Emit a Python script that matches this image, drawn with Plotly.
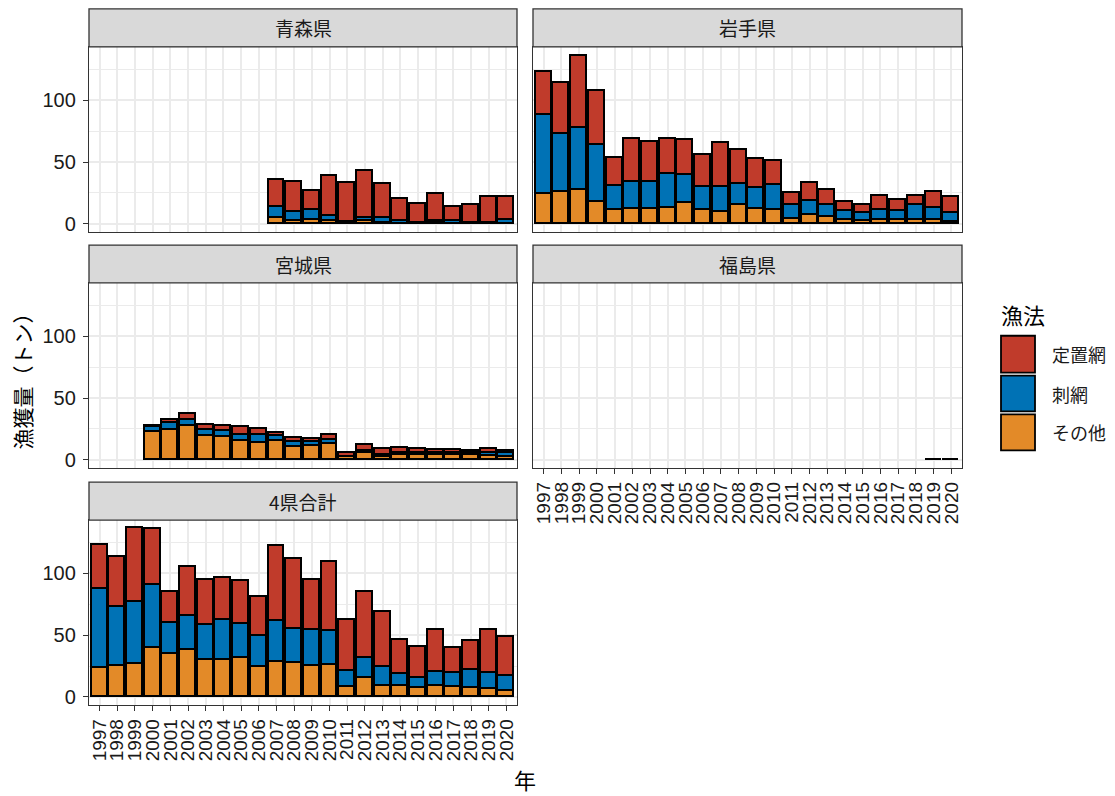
import plotly.graph_objects as go

# ---------------- data ----------------
years = list(range(1997, 2021))
N = None

# 青森県
aomori_sonota = [N]*10 + [4.4, 2.6, 2.8, 2.7, 0.8, 2.6, 0.5, 0.3, 0.2, 0.4, 0.2, 0.2, 0.2, 0.3]
aomori_sashiami = [N]*10 + [8.9, 7.4, 8.7, 3.9, 0.8, 2.4, 4.0, 2.2, 0.8, 2.0, 1.8, 0.8, 0.8, 3.2]
aomori_teichi = [N]*10 + [22.2, 24.0, 14.9, 32.0, 31.7, 37.6, 28.1, 17.5, 15.0, 21.6, 11.5, 14.5, 20.6, 18.1]

# 岩手県
iwate_sonota = [24.5, 25.6, 27.5, 18.0, 11.0, 11.7, 12.0, 12.5, 17.0, 11.0, 10.0, 15.0,
                12.0, 11.0, 3.7, 7.0, 6.0, 3.5, 2.6, 3.5, 3.0, 2.9, 3.0, 1.3]
iwate_sashiami = [63.5, 46.9, 50.1, 46.0, 20.0, 22.3, 22.0, 28.3, 23.0, 19.0, 20.0, 17.0,
                  17.3, 20.7, 11.3, 11.7, 9.5, 6.9, 5.9, 7.5, 7.6, 12.8, 10.0, 7.2]
iwate_teichi = [35.0, 41.5, 58.4, 43.5, 22.0, 35.0, 32.4, 28.2, 28.0, 26.0, 35.6, 28.0,
                23.5, 19.3, 10.0, 14.1, 12.2, 7.4, 7.2, 12.0, 8.4, 7.0, 13.0, 13.1]

# 宮城県
miyagi_sonota = [N]*3 + [22.5, 24.0, 27.3, 19.0, 18.5, 15.3, 13.4, 15.3, 10.5, 11.3, 13.0,
                         2.0, 6.0, 2.6, 4.0, 3.7, 4.0, 4.3, 3.7, 3.5, 2.7]
miyagi_sashiami = [N]*3 + [4.0, 6.0, 5.0, 5.6, 5.0, 4.8, 6.6, 4.0, 4.0, 3.0, 2.8,
                           0.5, 1.0, 1.5, 1.5, 1.5, 2.0, 1.5, 1.5, 2.0, 2.5]
miyagi_teichi = [N]*3 + [1.0, 2.5, 5.0, 4.0, 3.6, 6.4, 5.0, 2.3, 3.5, 2.7, 4.5,
                         3.4, 4.8, 4.4, 4.4, 3.8, 2.0, 2.2, 2.0, 3.5, 2.0]

# 福島県
fukushima_sonota = [N]*24
fukushima_sashiami = [N]*24
fukushima_teichi = [N]*22 + [0.3, 0.3]

# 4県合計
total_sonota = [23.6, 24.7, 26.9, 39.5, 34.4, 38.4, 30.3, 30.3, 31.7, 23.9, 28.5, 27.4,
                25.3, 25.6, 7.8, 15.3, 9.1, 8.6, 7.5, 8.6, 8.3, 7.5, 6.5, 4.6]
total_sashiami = [64.0, 47.8, 50.0, 50.8, 25.8, 27.4, 27.7, 32.3, 27.3, 25.8, 32.8, 27.6,
                  29.0, 27.4, 13.5, 16.2, 14.9, 9.7, 7.5, 11.3, 11.1, 14.5, 13.1, 12.4]
total_teichi = [35.4, 41.2, 59.6, 45.4, 24.7, 39.5, 36.8, 33.4, 34.8, 31.3, 60.7, 56.8,
                40.7, 56.0, 40.7, 53.7, 44.5, 27.7, 25.6, 34.4, 20.6, 23.0, 34.7, 31.6]

panel_names = ["青森県", "岩手県", "宮城県", "福島県", "4県合計"]
method_names = ["定置網", "刺網", "その他"]
y_ticks = [0, 50, 100]

# ---------------- styling ----------------
W, H = 1115, 796
RED, BLUE, ORANGE = "#C03B2B", "#0072B5", "#E38A28"
LATIN = "Liberation Sans, Arial, Noto Sans CJK JP"
CJK = "Noto Sans CJK JP, Noto Sans CJK SC, sans-serif"
TXT = "#1A1A1A"
BORDER = "#333333"
GRID = "#EBEBEB"

def px(x):
    return x / W

def py(y):
    return 1 - y / H

cols = [(89, 517), (533, 962)]
rows = [(47, 233), (284, 470), (522, 708)]
strip_h = 38

panels = [
    (panel_names[0], 0, 0, aomori_sonota, aomori_sashiami, aomori_teichi, False, True),
    (panel_names[1], 1, 0, iwate_sonota, iwate_sashiami, iwate_teichi, False, False),
    (panel_names[2], 0, 1, miyagi_sonota, miyagi_sashiami, miyagi_teichi, False, True),
    (panel_names[3], 1, 1, fukushima_sonota, fukushima_sashiami, fukushima_teichi, True, False),
    (panel_names[4], 0, 2, total_sonota, total_sashiami, total_teichi, True, True),
]

fig = go.Figure()
shapes = []
annotations = []
layout_axes = {}

for i, (name, c, r, so, sa, te, showx, showy) in enumerate(panels):
    ax = "" if i == 0 else str(i + 1)
    for vals, color, mname in [(so, ORANGE, method_names[2]), (sa, BLUE, method_names[1]), (te, RED, method_names[0])]:
        fig.add_trace(go.Bar(
            x=years, y=vals, xaxis="x" + ax, yaxis="y" + ax, name=mname,
            width=0.9, showlegend=False,
            marker=dict(color=color, line=dict(color="black", width=1.8)),
        ))
    x0, x1 = cols[c]
    y0, y1 = rows[r]
    layout_axes["xaxis" + ax] = dict(
        domain=[px(x0), px(x1)], anchor="y" + ax, range=[1996.4, 2020.6],
        tickmode="array", tickvals=years, ticktext=[str(y) for y in years],
        tickangle=-90, showticklabels=showx, ticks="outside" if showx else "",
        ticklen=5, tickwidth=1.2, tickcolor=BORDER,
        tickfont=dict(family=LATIN, size=19, color=TXT),
        showgrid=True, gridcolor=GRID, gridwidth=1.5, zeroline=False,
        showline=True, mirror=True, linecolor=BORDER, linewidth=1.3,
        fixedrange=True,
    )
    layout_axes["yaxis" + ax] = dict(
        domain=[py(y1), py(y0)], anchor="x" + ax, range=[-6.8, 143.3],
        tickmode="array", tickvals=y_ticks, ticktext=[str(v) for v in y_ticks],
        showticklabels=showy, ticks="outside" if showy else "",
        ticklen=5, tickwidth=1.2, tickcolor=BORDER, ticklabelstandoff=3,
        tickfont=dict(family=LATIN, size=20, color=TXT),
        showgrid=True, gridcolor=GRID, gridwidth=1.5, zeroline=False,
        minor=dict(tickvals=[25, 75, 125], showgrid=True, gridcolor=GRID, gridwidth=0.8, ticks=""),
        showline=True, mirror=True, linecolor=BORDER, linewidth=1.3,
        fixedrange=True,
    )
    # strip
    shapes.append(dict(type="rect", xref="paper", yref="paper",
                       x0=px(x0), x1=px(x1), y0=py(y0), y1=py(y0 - strip_h),
                       fillcolor="#D9D9D9", line=dict(color=BORDER, width=1.3), layer="above"))
    annotations.append(dict(text=name, xref="paper", yref="paper",
                            x=px((x0 + x1) / 2), y=py(y0 - strip_h / 2),
                            showarrow=False, xanchor="center", yanchor="middle",
                            font=dict(family=CJK, size=19, color=TXT)))

# axis titles
annotations.append(dict(text="年", xref="paper", yref="paper", x=px(525), y=py(782),
                        showarrow=False, xanchor="center", yanchor="middle",
                        font=dict(family=CJK, size=22, color="black")))
annotations.append(dict(text="漁獲量（トン）", xref="paper", yref="paper", x=px(22), y=py(378),
                        showarrow=False, xanchor="center", yanchor="middle", textangle=-90,
                        font=dict(family=CJK, size=21, color="black")))

# legend (manual)
annotations.append(dict(text="漁法", xref="paper", yref="paper", x=px(999), y=py(315),
                        showarrow=False, xanchor="left", yanchor="middle",
                        font=dict(family=CJK, size=22, color="black")))
key_rows = [(337, 374), (377, 413), (416, 452)]
for (k0, k1), color, label in zip(key_rows, [RED, BLUE, ORANGE], method_names):
    shapes.append(dict(type="rect", xref="paper", yref="paper",
                       x0=px(1001), x1=px(1035), y0=py(k1), y1=py(k0),
                       fillcolor=color, line=dict(color="black", width=1.8)))
    annotations.append(dict(text=label, xref="paper", yref="paper", x=px(1050), y=py((k0 + k1) / 2),
                            showarrow=False, xanchor="left", yanchor="middle",
                            font=dict(family=CJK, size=18, color=TXT)))

fig.update_layout(
    width=W, height=H, margin=dict(l=0, r=0, t=0, b=0),
    paper_bgcolor="white", plot_bgcolor="white",
    barmode="stack", bargap=0,
    shapes=shapes, annotations=annotations,
    font=dict(family=LATIN, color=TXT),
    **layout_axes,
)

fig.write_html("out.html")
